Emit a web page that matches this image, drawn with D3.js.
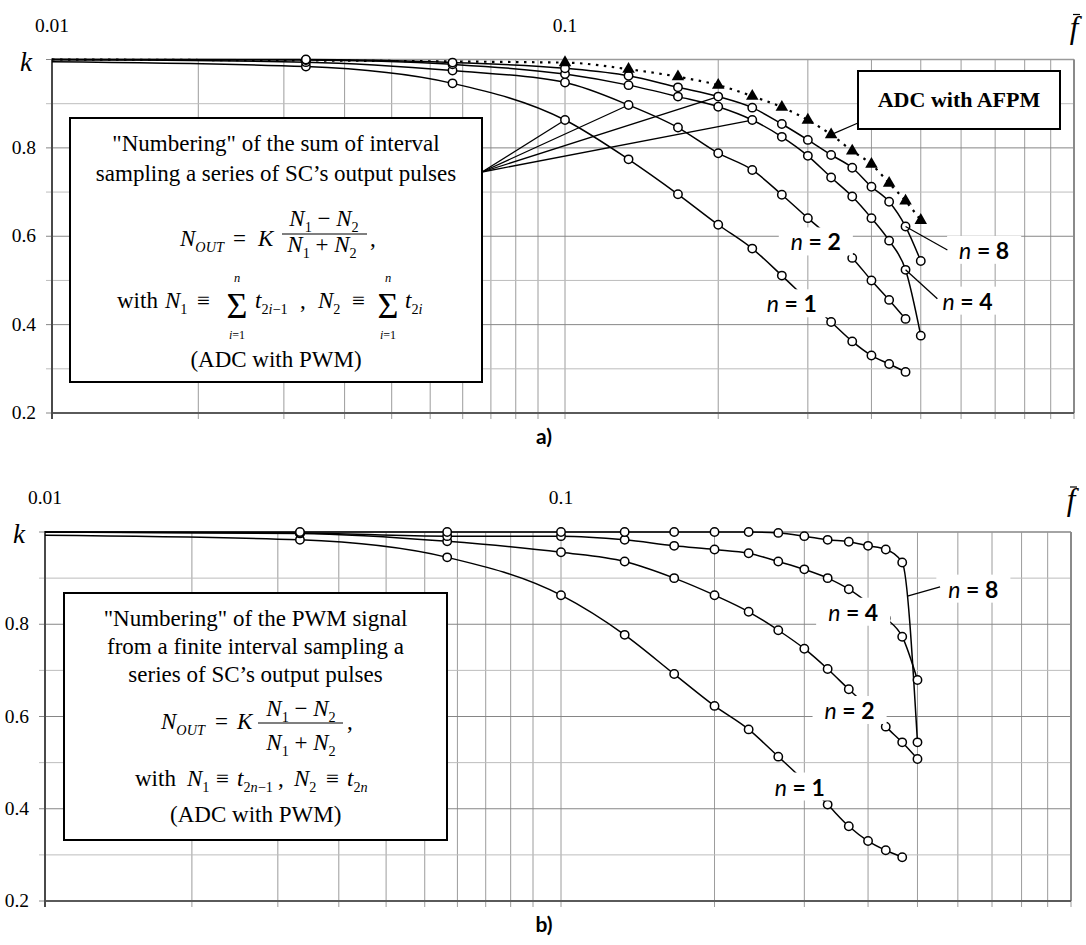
<!DOCTYPE html>
<html>
<head>
<meta charset="utf-8">
<script src="https://cdn.jsdelivr.net/npm/d3@7"></script>
<style>
  body { margin: 0; background: #fff; }
  svg { display: block; }
  .serif { font-family: "Liberation Serif", "Times New Roman", serif; }
  .sans { font-family: "Lato", "Open Sans", sans-serif; }
</style>
</head>
<body>
<svg id="chart" width="1086" height="945"></svg>
<script>
// Relative frequency f̄ of the sampled points
const freq = [0.01, 0.0333, 0.0667, 0.1, 0.1333, 0.1667, 0.2, 0.2333, 0.2667, 0.3,
              0.3333, 0.3667, 0.4, 0.4333, 0.4667, 0.5];

// a) sum of interval sampling (ADC with PWM), k versus f̄
const sumN1 = [0.995, 0.984, 0.946, 0.863, 0.774, 0.695, 0.626, 0.572, 0.511, 0.455,
               0.406, 0.362, 0.330, 0.311, 0.293, null];
const sumN2 = [1.000, 0.994, 0.975, 0.948, 0.897, 0.846, 0.788, 0.750, 0.694, 0.641,
               0.596, 0.551, 0.500, 0.456, 0.413, null];
const sumN4 = [1.000, 0.999, 0.989, 0.967, 0.942, 0.916, 0.893, 0.863, 0.825, 0.782,
               0.733, 0.690, 0.641, 0.590, 0.524, 0.375];
const sumN8 = [1.000, 1.000, 0.993, 0.980, 0.963, 0.937, 0.916, 0.891, 0.854, 0.818,
               0.784, 0.755, 0.712, 0.678, 0.622, 0.544];
// ADC with AFPM
const afpm  = [1.000, null, null, 0.993, 0.978, 0.961, 0.942, 0.917, 0.892, 0.863,
               0.830, 0.793, 0.763, 0.720, 0.680, 0.636];

// b) PWM signal from a finite interval sampling
const pwmN1 = [0.993, 0.983, 0.945, 0.863, 0.777, 0.692, 0.623, 0.572, 0.513, 0.460,
               0.409, 0.362, 0.330, 0.310, 0.295, null];
const pwmN2 = [1.000, 0.997, 0.980, 0.956, 0.936, 0.900, 0.863, 0.827, 0.787, 0.747,
               0.703, 0.659, 0.620, 0.578, 0.544, 0.508];
const pwmN4 = [1.000, 0.998, 0.991, 0.991, 0.983, 0.970, 0.962, 0.954, 0.936, 0.919,
               0.900, 0.876, 0.846, 0.813, 0.773, 0.679];
const pwmN8 = [1.000, 1.000, 1.000, 1.000, 1.000, 1.000, 1.000, 1.000, 0.998, 0.991,
               0.983, 0.979, 0.970, 0.962, 0.934, 0.544];

// Axis ticks
const xTicksLow  = [0.01, 0.02, 0.03, 0.04, 0.05, 0.06, 0.07, 0.08, 0.09, 0.1];
const xTicksHigh = [0.1, 0.2, 0.3, 0.4, 0.5, 0.6, 0.7, 0.8, 0.9, 1];
const xTickLabels = [{ v: 0.01, text: "0.01" }, { v: 0.1, text: "0.1" }];
const yTicks = [0.2, 0.3, 0.4, 0.5, 0.6, 0.7, 0.8, 0.9, 1.0];
const yTickLabels = [{ v: 0.8, text: "0.8" }, { v: 0.6, text: "0.6" },
                     { v: 0.4, text: "0.4" }, { v: 0.2, text: "0.2" }];

const svg = d3.select("#chart");

// Each decade of the log axis is laid out on its own segment
function makeX(p) {
  const lo = d3.scaleLog().domain([0.01, 0.1]).range([p.left, p.lowEnd]);
  const hi = d3.scaleLog().domain([0.1, 1]).range([p.highStart, p.right]);
  const f = v => (v < 0.1 - 1e-9 ? lo(v) : hi(v));
  f.lo = lo; f.hi = hi;
  return f;
}

function mathPiece(g, x, y, anchor, size, pieces) {
  const t = g.append("text").attr("class", "serif")
    .attr("x", x).attr("y", y).attr("text-anchor", anchor)
    .attr("font-size", size).attr("fill", "#000");
  let shift = 0;
  pieces.forEach(([s, fmt]) => {
    fmt = fmt || "";
    const sub = fmt.includes("s");
    const target = sub ? size * 0.24 : 0;
    const ts = t.append("tspan").text(s).attr("dy", target - shift);
    shift = target;
    if (sub) ts.attr("font-size", size * 0.62);
    if (fmt.includes("i")) ts.attr("font-style", "italic");
  });
  return t;
}

function drawPanel(p) {
  const x = makeX(p);
  const y = d3.scaleLinear().domain([0.2, 1]).range([p.bottom, p.top]);
  const g = svg.append("g");

  // grid
  const grid = g.append("g");
  grid.selectAll(".vlo").data(xTicksLow).join("line")
    .attr("x1", d => x.lo(d)).attr("x2", d => x.lo(d))
    .attr("y1", p.top).attr("y2", p.bottom + 6)
    .attr("stroke", "#9c9c9c").attr("stroke-width", 1);
  grid.selectAll(".vhi").data(xTicksHigh).join("line")
    .attr("x1", d => x.hi(d)).attr("x2", d => x.hi(d))
    .attr("y1", p.top).attr("y2", p.bottom + 6)
    .attr("stroke", "#9c9c9c").attr("stroke-width", 1);
  grid.selectAll(".h").data(yTicks).join("line")
    .attr("x1", p.left - 6).attr("x2", p.right)
    .attr("y1", d => y(d)).attr("y2", d => y(d))
    .attr("stroke", d => (Math.round(d * 10) % 2 === 0 ? "#868686" : "#bdbdbd"))
    .attr("stroke-width", 1);

  // frame
  g.append("line").attr("x1", p.left).attr("x2", p.right).attr("y1", p.top).attr("y2", p.top)
    .attr("stroke", "#9a9a9a").attr("stroke-width", 1.5);
  g.append("line").attr("x1", p.right).attr("x2", p.right).attr("y1", p.top).attr("y2", p.bottom)
    .attr("stroke", "#8a8a8a").attr("stroke-width", 2);
  g.append("line").attr("x1", p.left).attr("x2", p.right).attr("y1", p.bottom).attr("y2", p.bottom)
    .attr("stroke", "#5a5a5a").attr("stroke-width", 2);
  g.append("line").attr("x1", p.left).attr("x2", p.left).attr("y1", p.top - 1).attr("y2", p.bottom + 6)
    .attr("stroke", "#4a4a4a").attr("stroke-width", 2);

  // tick labels
  g.selectAll(".xl").data(xTickLabels).join("text").attr("class", "serif")
    .attr("x", d => x(d.v)).attr("y", p.top - 28)
    .attr("text-anchor", "middle").attr("font-size", 19.5).text(d => d.text);
  g.selectAll(".yl").data(yTickLabels).join("text").attr("class", "serif")
    .attr("x", p.left - 16).attr("y", d => y(d.v) + 6)
    .attr("text-anchor", "end").attr("font-size", 19.5).text(d => d.text);
  g.append("text").attr("class", "serif").attr("x", p.left - 26).attr("y", y(1) + 11)
    .attr("text-anchor", "middle").attr("font-size", 27).attr("font-style", "italic").text("k");
  const fx = p.right, fy = p.top - 22;
  g.append("text").attr("class", "serif").attr("x", fx).attr("y", fy)
    .attr("text-anchor", "middle").attr("font-size", 31).attr("font-style", "italic").text("f");
  g.append("line").attr("x1", fx - 1).attr("x2", fx + 6).attr("y1", p.top - 45).attr("y2", p.top - 45)
    .attr("stroke", "#000").attr("stroke-width", 1.2);

  const pts = vals => freq.map((f, i) => ({ f, k: vals[i] })).filter(d => d.k != null);
  const line = d3.line().x(d => x(d.f)).y(d => y(d.k)).curve(d3.curveMonotoneX);
  const at = (vals, f) => { const i = freq.indexOf(f); return [x(f), y(vals[i])]; };

  // pointer lines to the data (drawn under markers)
  const ptr = g.append("g").attr("stroke", "#000").attr("stroke-width", 1.3);
  (p.pointers || []).forEach(pp => {
    const [tx, ty] = at(pp.series, pp.f);
    ptr.append("line").attr("x1", pp.from[0]).attr("y1", pp.from[1]).attr("x2", tx).attr("y2", ty);
  });

  // curves
  p.series.forEach(s => {
    g.append("path").datum(pts(s.vals)).attr("d", line)
      .attr("fill", "none").attr("stroke", "#000")
      .attr("stroke-width", s.dotted ? 2.2 : 1.5)
      .attr("stroke-dasharray", s.dotted ? "2.5,5.5" : null);
  });
  // markers
  p.series.forEach(s => {
    const data = pts(s.vals).filter(d => d.f > 0.01);
    if (s.dotted) {
      g.selectAll(null).data(data).join("path")
        .attr("transform", d => `translate(${x(d.f)},${y(d.k)})`)
        .attr("d", d3.symbol().type(d3.symbolTriangle).size(68)())
        .attr("fill", "#000");
    } else {
      g.selectAll(null).data(data).join("circle")
        .attr("cx", d => x(d.f)).attr("cy", d => y(d.k)).attr("r", 4.2)
        .attr("fill", "#fff").attr("stroke", "#000").attr("stroke-width", 1.5);
    }
  });

  // "n = …" labels with white backgrounds
  p.labels.forEach(l => {
    const cx = x(l.f), cy = y(l.k);
    const t = g.append("text").attr("class", "sans").attr("x", cx).attr("y", cy + 8)
      .attr("text-anchor", "middle").attr("font-size", 23);
    t.append("tspan").attr("font-style", "italic").text("n");
    t.append("tspan").attr("font-weight", "bold").text(" = " + l.n);
    const bb = t.node().getBBox();
    g.insert("rect", () => t.node())
      .attr("x", bb.x - 12).attr("y", bb.y).attr("width", bb.width + 24).attr("height", bb.height)
      .attr("fill", "#fff");
  });
  (p.labelPointers || []).forEach(lp => {
    const a = lp.fromSeries ? at(lp.fromSeries, lp.f) : [x(lp.from.f), y(lp.from.k)];
    g.append("line").attr("x1", a[0]).attr("y1", a[1])
      .attr("x2", x(lp.to.f)).attr("y2", y(lp.to.k))
      .attr("stroke", "#000").attr("stroke-width", 1.3);
  });

  // "a)" / "b)"
  g.append("text").attr("class", "sans").attr("x", 544).attr("y", p.bottom + 31)
    .attr("text-anchor", "middle").attr("font-size", 21).attr("font-weight", "bold").text(p.tag);
  return g;
}

// ---- panel a ----
drawPanel({
  left: 52, lowEnd: 538, highStart: 565, right: 1074, top: 59.5, bottom: 413, tag: "a)",
  series: [
    { vals: sumN1 }, { vals: sumN2 }, { vals: sumN4 }, { vals: sumN8 },
    { vals: afpm, dotted: true }
  ],
  pointers: [
    { from: [482, 172], series: sumN1, f: 0.1 },
    { from: [482, 172], series: sumN2, f: 0.1333 },
    { from: [482, 172], series: sumN8, f: 0.2 },
    { from: [482, 172], series: sumN4, f: 0.2333 },
    { from: [858, 123], series: afpm, f: 0.3333 }
  ],
  labels: [
    { n: 8, f: 0.666, k: 0.567 }, { n: 4, f: 0.618, k: 0.452 },
    { n: 2, f: 0.311, k: 0.586 }, { n: 1, f: 0.279, k: 0.446 }
  ],
  labelPointers: [
    { fromSeries: sumN8, f: 0.4667, to: { f: 0.564, k: 0.569 } },
    { fromSeries: sumN4, f: 0.4667, to: { f: 0.539, k: 0.4585 } }
  ]
});

// ---- panel b ----
drawPanel({
  left: 45, lowEnd: 533, highStart: 561, right: 1071, top: 532, bottom: 901, tag: "b)",
  series: [{ vals: pwmN1 }, { vals: pwmN2 }, { vals: pwmN4 }, { vals: pwmN8 }],
  labels: [
    { n: 8, f: 0.6435, k: 0.875 }, { n: 4, f: 0.374, k: 0.825 },
    { n: 2, f: 0.368, k: 0.612 }, { n: 1, f: 0.294, k: 0.446 }
  ],
  labelPointers: [
    { from: { f: 0.4778, k: 0.861 }, to: { f: 0.5537, k: 0.881 } }
  ]
});

// ---- text boxes ----
function box(g, x0, y0, w, h) {
  g.append("rect").attr("x", x0).attr("y", y0).attr("width", w).attr("height", h)
    .attr("fill", "#fff").attr("stroke", "#000").attr("stroke-width", 2);
}

// panel a description
(function () {
  const g = svg.append("g");
  box(g, 70, 118, 412, 264);
  const cx = 276, fs = 23;
  mathPiece(g, cx, 151, "middle", fs, [['"Numbering" of the sum of interval']]);
  mathPiece(g, cx, 181, "middle", fs, [["sampling a series of SC\u2019s output pulses"]]);
  // N_OUT = K (N1 − N2)/(N1 + N2) ,
  mathPiece(g, 180, 246, "start", fs, [["N", "i"], ["OUT", "is"]]);
  mathPiece(g, 233, 246, "start", fs, [["="]]);
  mathPiece(g, 258, 246, "start", fs, [["K", "i"]]);
  mathPiece(g, 324, 226, "middle", fs, [["N", "i"], ["1", "s"], [" \u2212 "], ["N", "i"], ["2", "s"]]);
  g.append("line").attr("x1", 282).attr("x2", 367).attr("y1", 234).attr("y2", 234)
    .attr("stroke", "#000").attr("stroke-width", 1.1);
  mathPiece(g, 322, 252, "middle", fs, [["N", "i"], ["1", "s"], [" + "], ["N", "i"], ["2", "s"]]);
  mathPiece(g, 370, 246, "start", fs, [[","]]);
  // with N1 ≡ Σ t(2i−1) , N2 ≡ Σ t(2i)
  mathPiece(g, 117, 308, "start", fs, [["with"]]);
  mathPiece(g, 165, 308, "start", fs, [["N", "i"], ["1", "s"]]);
  mathPiece(g, 197, 308, "start", fs, [["\u2261"]]);
  [237, 388].forEach(sx => {
    mathPiece(g, sx, 318, "middle", 36, [["\u03A3"]]);
    mathPiece(g, sx, 282, "middle", 12.5, [["n", "i"]]);
    mathPiece(g, sx, 338.5, "middle", 12, [["i", "i"], ["=1"]]);
  });
  mathPiece(g, 255, 308, "start", fs, [["t", "i"], ["2", "s"], ["i", "is"], ["\u22121", "s"]]);
  mathPiece(g, 300, 308, "start", fs, [[","]]);
  mathPiece(g, 318, 308, "start", fs, [["N", "i"], ["2", "s"]]);
  mathPiece(g, 352, 308, "start", fs, [["\u2261"]]);
  mathPiece(g, 405, 308, "start", fs, [["t", "i"], ["2", "s"], ["i", "is"]]);
  mathPiece(g, cx, 367, "middle", fs, [["(ADC with PWM)"]]);

  // AFPM box
  box(g, 858, 71, 202, 58);
  g.append("text").attr("class", "serif").attr("x", 959).attr("y", 107)
    .attr("text-anchor", "middle").attr("font-size", 22).attr("font-weight", "bold")
    .text("ADC with AFPM");
})();

// panel b description
(function () {
  const g = svg.append("g");
  box(g, 64, 593, 383, 247);
  const cx = 255.5, fs = 23;
  mathPiece(g, cx, 626, "middle", fs, [['"Numbering" of the PWM signal']]);
  mathPiece(g, cx, 654, "middle", fs, [["from a finite interval sampling a"]]);
  mathPiece(g, cx, 682, "middle", fs, [["series of SC\u2019s output pulses"]]);
  mathPiece(g, 161, 729, "start", fs, [["N", "i"], ["OUT", "is"]]);
  mathPiece(g, 215, 729, "start", fs, [["="]]);
  mathPiece(g, 237, 729, "start", fs, [["K", "i"]]);
  mathPiece(g, 301, 716, "middle", fs, [["N", "i"], ["1", "s"], [" \u2212 "], ["N", "i"], ["2", "s"]]);
  g.append("line").attr("x1", 258).attr("x2", 343).attr("y1", 723).attr("y2", 723)
    .attr("stroke", "#000").attr("stroke-width", 1.1);
  mathPiece(g, 301, 750, "middle", fs, [["N", "i"], ["1", "s"], [" + "], ["N", "i"], ["2", "s"]]);
  mathPiece(g, 347, 729, "start", fs, [[","]]);
  mathPiece(g, 135, 786, "start", fs, [["with"]]);
  mathPiece(g, 187, 786, "start", fs, [["N", "i"], ["1", "s"]]);
  mathPiece(g, 216, 786, "start", fs, [["\u2261"]]);
  mathPiece(g, 237, 786, "start", fs, [["t", "i"], ["2", "s"], ["n", "is"], ["\u22121", "s"]]);
  mathPiece(g, 278, 786, "start", fs, [[","]]);
  mathPiece(g, 294, 786, "start", fs, [["N", "i"], ["2", "s"]]);
  mathPiece(g, 326, 786, "start", fs, [["\u2261"]]);
  mathPiece(g, 347, 786, "start", fs, [["t", "i"], ["2", "s"], ["n", "is"]]);
  mathPiece(g, 255.7, 822, "middle", fs, [["(ADC with PWM)"]]);
})();
</script>
</body>
</html>
